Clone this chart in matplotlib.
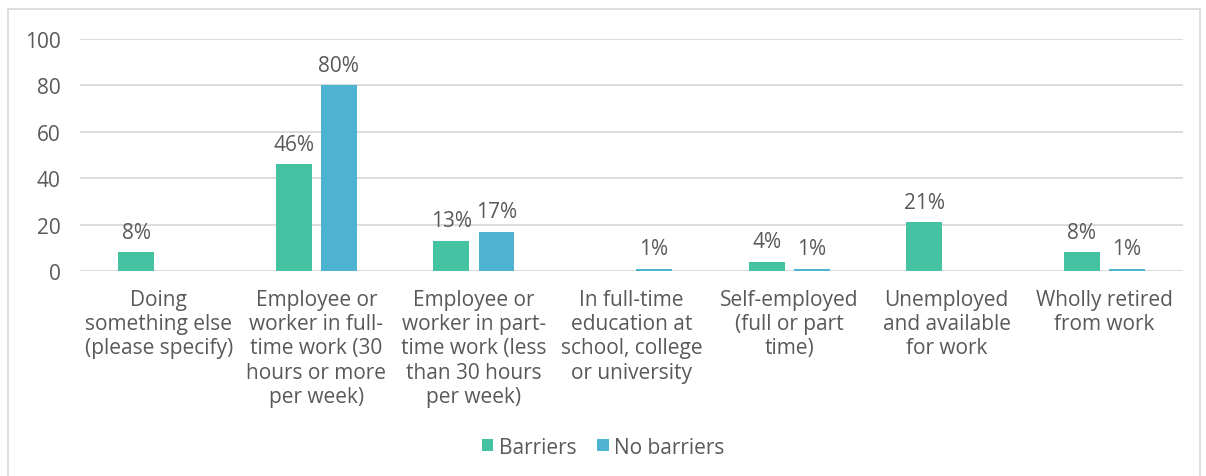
import numpy as np
import matplotlib.pyplot as plt
from matplotlib.patches import Rectangle

categories = [
    "Doing\nsomething else\n(please specify)",
    "Employee or\nworker in full-\ntime work (30\nhours or more\nper week)",
    "Employee or\nworker in part-\ntime work (less\nthan 30 hours\nper week)",
    "In full-time\neducation at\nschool, college\nor university",
    "Self-employed\n(full or part\ntime)",
    "Unemployed\nand available\nfor work",
    "Wholly retired\nfrom work",
]
barriers = [8, 46, 13, 0, 4, 21, 8]
no_barriers = [0, 80, 17, 1, 1, 0, 1]
series_names = ["Barriers", "No barriers"]

green = "#45C2A2"
blue = "#4DB3D0"
text_col = "#595959"
fs = 15

plt.rcParams["font.family"] = ["Open Sans", "DejaVu Sans"]

fig = plt.figure(figsize=(12.06, 4.77), dpi=100)
ax = fig.add_axes([0.0663, 0.4298, 0.9147, 0.4864])

x = np.arange(len(categories))
w = 0.228
off = 0.143
b1 = ax.bar(x - off, barriers, w, color=green, label=series_names[0], zorder=3)
b2 = ax.bar(x + off, no_barriers, w, color=blue, label=series_names[1], zorder=3)

for bars, vals in ((b1, barriers), (b2, no_barriers)):
    for rect, v in zip(bars, vals):
        if v == 0:
            continue
        ax.annotate(f"{v}%", (rect.get_x() + rect.get_width() / 2, v),
                    xytext=(0, 7), textcoords="offset points",
                    ha="center", va="bottom", fontsize=fs, color=text_col)

ax.set_xlim(-0.5, len(categories) - 0.5)
ax.set_ylim(0, 100)
ax.set_yticks(range(0, 101, 20))
ax.set_xticks(x)
ax.set_xticklabels(categories, fontsize=fs, color=text_col, linespacing=1.2)
ax.tick_params(axis="y", labelsize=fs, labelcolor=text_col, length=0, pad=14)
ax.tick_params(axis="x", length=0, pad=13)
ax.grid(axis="y", color="#D9D9D9", linewidth=1.3, zorder=0)
for s in ax.spines.values():
    s.set_visible(False)

ax.legend(loc="center", bbox_to_anchor=(0.5, (1 - 448 / 477)), ncol=2,
          frameon=False, fontsize=fs, labelcolor=text_col,
          handlelength=0.55, handleheight=0.55, handletextpad=0.25, columnspacing=1.0,
          bbox_transform=fig.transFigure)

# light frame around the chart
fig.patches.append(Rectangle((8 / 1206, -0.01), 1192 / 1206, 1 - 10 / 477 + 0.01,
                             transform=fig.transFigure, fill=False,
                             edgecolor="#D9D9D9", linewidth=1.2))

fig.savefig("out.png", dpi=100)
